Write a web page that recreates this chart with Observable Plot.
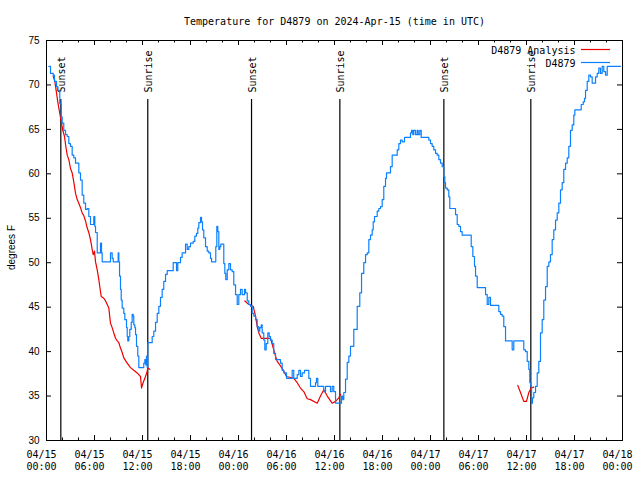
<!DOCTYPE html>
<html>
<head>
<meta charset="utf-8">
<script src="https://cdn.jsdelivr.net/npm/d3@7"></script>
<script src="https://cdn.jsdelivr.net/npm/@observablehq/plot@0.6"></script>
<style>
  html, body { margin: 0; padding: 0; background: #fff; }
  #chart { width: 640px; height: 480px; }
</style>
</head>
<body>
<div id="chart"></div>
<script>
// ---- Data (hours since 2024-04-15 00:00 UTC, temperatures in °F) ----
const titleText = "Temperature for D4879 on 2024-Apr-15 (time in UTC)";
const yLabel = "degrees F";

const obsHours = [0.29,0.5,0.84,1.0,1.25,1.41,1.66,1.84,1.96,2.16,2.38,2.59,2.79,3.0,3.21,3.41,3.63,3.91,4.04,4.25,4.46,4.66,4.88,5.09,5.29,5.5,5.79,5.91,6.04,6.13,6.34,6.75,6.88,6.96,7.79,8.0,8.21,8.34,8.84,8.96,9.04,9.13,9.25,9.34,9.46,9.66,9.79,10.0,10.09,10.16,10.29,10.41,10.59,10.71,10.84,10.91,11.04,11.13,11.25,11.41,11.54,11.96,12.16,12.29,12.41,12.5,12.59,12.66,13.0,13.21,13.41,13.63,13.84,14.04,14.25,14.46,14.66,14.88,15.09,15.59,15.84,16.13,16.25,16.41,16.75,16.96,17.25,17.38,17.59,17.79,18.0,18.34,18.54,18.75,18.91,19.04,19.25,19.38,19.5,19.66,19.88,20.09,20.29,20.5,20.63,21.04,21.16,21.29,21.41,21.54,21.66,21.79,22.04,22.16,22.29,22.41,22.59,22.79,23.0,23.21,23.41,23.63,23.84,24.04,24.25,24.46,24.75,24.88,25.09,25.29,25.5,25.71,25.91,26.13,26.34,26.54,26.66,26.84,26.96,27.16,27.29,27.46,27.66,27.84,28.0,28.21,28.41,28.63,29.04,29.25,29.46,29.66,30.0,30.5,30.71,30.91,31.13,31.34,31.54,31.75,31.96,32.25,32.59,32.79,33.0,33.41,33.63,33.75,33.91,34.46,34.66,34.88,35.29,35.5,35.71,35.91,36.13,36.75,36.88,37.04,37.16,37.38,37.59,37.79,38.0,38.41,38.84,39.16,39.38,39.66,39.88,40.09,40.29,40.5,40.71,40.84,41.0,41.34,41.54,41.75,41.96,42.16,42.38,42.5,42.79,43.0,43.21,43.63,43.84,44.04,44.25,44.46,44.75,45.29,45.5,45.63,45.79,45.91,46.13,46.34,46.46,46.66,46.84,47.59,47.79,48.0,48.21,48.41,48.63,48.84,49.04,49.25,49.46,49.66,49.79,49.88,50.09,50.29,50.41,50.91,51.13,51.34,51.54,51.75,51.96,52.91,53.09,53.29,53.5,53.63,53.84,54.66,54.88,55.09,55.29,55.5,56.34,56.54,56.75,56.96,57.16,57.38,57.91,58.21,58.41,59.46,59.66,59.88,60.09,60.29,60.41,60.54,60.63,60.75,60.91,61.13,61.34,61.54,61.75,61.96,62.16,62.38,62.59,62.79,63.0,63.21,63.41,63.63,63.84,64.04,64.25,64.46,64.66,64.88,65.09,65.29,65.5,65.71,65.91,66.04,66.66,66.84,67.09,67.25,67.38,67.59,67.79,68.0,68.21,68.41,68.63,68.84,69.04,69.25,69.46,69.66,69.88,70.09,71.75];
const obsTemps = [72.1,71.3,71.1,70.4,69.8,69.4,67.9,66.4,65.7,64.9,64.4,64.2,63.4,63.1,62.1,61.8,61.2,61.2,60.1,59.3,57.6,56.7,56,56.1,55.2,54.3,54.3,55.2,54.1,53.4,51.1,52.2,51.1,50.1,50.1,51.1,50.5,50.1,50.1,51.1,50.1,48.5,47,45.8,44.9,44.3,43.6,42.7,41.7,41.2,41.7,42.5,43.3,44.2,44,43,42.7,41.9,40.6,39.5,38.2,38.2,38.7,39.1,38.5,39.5,38.2,41,41,41.7,42.3,43.3,44.3,45.1,46.1,47,47.9,48.7,49.1,49.1,50,50,49.1,50,50.6,51.1,51.1,52.1,51.5,51.8,52.2,52.4,53,53.3,53.9,54.5,55.1,54.6,53.7,52.8,51.8,51.3,51.1,50.5,50.1,50.1,51.8,54.1,53.5,51.5,51.8,52.1,52.1,49.9,48.8,48.1,49.2,49.9,49.2,49,47.5,46.4,45.3,46.4,47,46.4,47,46.6,45.7,45.3,45.1,44.3,44,43.6,42.8,42.3,42.7,43,42.1,41.3,40.2,40.9,42.1,41.7,41.3,40.9,39.8,39.1,39.1,38.7,37.9,37.6,37,37,37.9,37,37,37.4,37.9,37.2,37.6,37.9,37.9,37,36.1,36.1,36.5,37,36.1,36.1,35.5,36.1,36.1,35.5,36.1,35.5,34.2,34.2,35,34.6,35.4,36.9,38.8,39.5,40.6,42.5,45.1,46.6,48.8,50,50.9,51.1,52.6,53.1,53.7,54.6,55.2,55.8,56.1,56.3,57.1,58.6,59.5,60.1,60.1,60.8,62.1,62.1,62.7,63.4,63.8,63.6,64.1,64.1,64.6,64.9,64.4,64.9,64.4,64.9,64.4,64.9,64.1,64.1,63.8,63.4,63.1,62.7,62.3,62.1,61.6,61.2,60.8,59.7,59,58.4,58.2,57.4,56.1,56.1,55.4,54.3,54.1,53.5,53.1,53.1,51.8,50.7,49.6,48.5,47.2,47.2,46.4,45.3,46.1,45.2,45.2,44.5,44.2,44,42.8,41.2,41.2,40.2,41.2,41.2,40.2,40,38.9,38,36.5,36.1,34.2,34.8,35.4,36.1,37.6,38.9,42.1,43.6,45.8,47.3,49.6,50.1,50.9,52.6,53.7,54.8,55.6,56.7,58.2,59,60.5,61.2,61.8,63.1,64.9,65.5,66.6,67.2,67.2,67.8,68.1,68.5,69.4,70.4,71.1,70.9,70.2,70.2,70.9,71.3,71.9,71.3,72.1,71.5,71.1,72.1,72.1];

const analysisSegment = [1,1,1,1,1,1,1,1,1,1,1,1,1,1,1,1,1,1,1,1,1,1,1,1,1,1,1,1,1,1,1,1,1,1,1,1,1,1,1,1,1,1,1,1,1,1,1,1,1,1,1,1,1,1,1,1,1,
  2,2,2,2,2,2,2,2,2,2,2,2,2,2,2,2,2,2,2,2,2,2,2,2,2,2,2,2,
  3,3,3,3,3,3,3];
const analysisHours = [0.84,1.04,1.25,1.41,1.66,1.84,2.04,2.25,2.41,2.59,2.79,3.0,3.21,3.41,3.63,3.84,4.04,4.25,4.46,4.66,4.88,5.09,5.29,5.5,5.71,5.84,6.0,6.13,6.34,6.54,6.66,6.84,7.16,7.38,7.59,7.79,8.0,8.21,8.41,8.63,8.84,9.04,9.25,9.46,9.66,10.09,10.5,10.91,11.34,11.75,11.88,12.0,12.16,12.38,12.59,12.66,12.91,
  24.79,25.29,25.84,26.13,26.34,26.54,26.84,28.0,28.41,28.63,28.84,29.25,29.66,30.0,30.91,31.34,31.75,32.16,32.59,33.0,33.84,34.25,34.66,35.09,35.71,36.13,36.54,36.75,
  58.91,59.25,59.66,60.0,60.29,60.59,60.91];
const analysisTemps = [71,70.4,69.1,68.1,66.8,65.9,64.9,64.2,63.1,62.1,61.6,60.6,60.1,59.1,57.8,57.1,56.7,56.2,55.6,55.3,54.7,53.9,53.4,52.6,51.5,50.9,51.3,50.1,49.2,48.1,47.3,46.2,46,45.7,45.3,44.9,43.2,42.7,42.1,41.5,41.2,41,40.4,39.9,39.3,38.7,38.2,37.9,37.6,37.2,35.9,36.3,36.7,37.2,37.8,38.2,38,
  45.7,45.3,45.1,44,42.8,42.1,41.5,41.5,40.2,39.5,38.9,38.4,37.8,37.2,37,36.5,35.9,35.5,34.7,34.6,34.2,35,35.7,35,34.2,34.4,34.8,35.2,
  36.2,35.4,34.4,34.4,35.4,35.9,36];

const sunHours  = [1.79, 12.66, 25.63, 36.67, 49.67, 60.54];
const sunLabels = ["Sunset", "Sunrise", "Sunset", "Sunrise", "Sunset", "Sunrise"];

const xTickHours  = [0, 6, 12, 18, 24, 30, 36, 42, 48, 54, 60, 66, 72];
const xTickLabels = ["04/15\n00:00","04/15\n06:00","04/15\n12:00","04/15\n18:00",
                     "04/16\n00:00","04/16\n06:00","04/16\n12:00","04/16\n18:00",
                     "04/17\n00:00","04/17\n06:00","04/17\n12:00","04/17\n18:00",
                     "04/18\n00:00"];
const xMinorHours = [2,4,8,10,14,16,20,22,26,28,32,34,38,40,44,46,50,52,56,58,62,64,68,70];
const yTicks = [30, 35, 40, 45, 50, 55, 60, 65, 70, 75];

const legendLabels = ["D4879 Analysis", "D4879"];
const colors = {analysis: "#ee0000", obs: "#0a80ff"};

// ---- Build tables ----
const t0 = Date.UTC(2024, 3, 15);
const toDate = h => new Date(t0 + h * 3600e3);
const obs = obsHours.map((h, i) => ({t: toDate(h), v: obsTemps[i]}));
const analysis = analysisHours.map((h, i) => ({t: toDate(h), v: analysisTemps[i], s: analysisSegment[i]}));
const sun = sunHours.map((h, i) => ({t: toDate(h), label: sunLabels[i]}));
const xTicks = xTickHours.map(toDate);
const xMinor = xMinorHours.map(toDate);
const labelByTime = new Map(xTicks.map((d, i) => [+d, xTickLabels[i]]));

const W = 640, H = 480, mL = 46, mR = 18, mT = 40, mB = 40;
const fw = W - mL - mR, fh = H - mT - mB;
const mono = "DejaVu Sans Mono, monospace";
const sans = "Liberation Sans, Arial, sans-serif";

const chart = Plot.plot({
  width: W, height: H,
  marginLeft: mL, marginRight: mR, marginTop: mT, marginBottom: mB,
  style: {background: "#fff", color: "#000"},
  x: {type: "utc", domain: [toDate(0), toDate(72)]},
  y: {domain: [30, 75]},
  marks: [
    // axes labels
    Plot.axisX({ticks: xTicks, tickSize: 0, tickPadding: 9, dx: -5,
      tickFormat: d => labelByTime.get(+d), fontFamily: mono, fontSize: 10, lineHeight: 1.2, label: null}),
    Plot.axisY({ticks: yTicks, tickSize: 0, tickPadding: 7, fontFamily: sans, fontSize: 10, label: null}),
    // inward tick marks (all four sides)
    Plot.tickX(xTicks, {x: d => d, insetTop: fh - 5, stroke: "#000"}),
    Plot.tickX(xTicks, {x: d => d, insetBottom: fh - 5, stroke: "#000"}),
    Plot.tickX(xMinor, {x: d => d, insetTop: fh - 2.5, stroke: "#000"}),
    Plot.tickX(xMinor, {x: d => d, insetBottom: fh - 2.5, stroke: "#000"}),
    Plot.tickY(yTicks, {y: d => d, insetRight: fw - 5, stroke: "#000"}),
    Plot.tickY(yTicks, {y: d => d, insetLeft: fw - 5, stroke: "#000"}),
    // sunrise / sunset markers
    Plot.ruleX(sun, {x: "t", insetTop: 59, stroke: "#000", strokeWidth: 1.2}),
    Plot.text(sun, {x: "t", text: "label", frameAnchor: "top", dy: 52, dx: 1, rotate: -90,
      textAnchor: "start", lineAnchor: "middle", fontFamily: mono, fontSize: 10, fill: "#000"}),
    // data
    Plot.line(analysis, {x: "t", y: "v", z: "s", stroke: colors.analysis, strokeWidth: 1.2}),
    Plot.line(obs, {x: "t", y: "v", curve: "step-after", stroke: colors.obs, strokeWidth: 1.2}),
    // frame
    Plot.frame({stroke: "#000"}),
    // title & y label
    Plot.text([titleText], {frameAnchor: "top", dy: -23, fontFamily: mono, fontSize: 10, fill: "#000"}),
    Plot.text([yLabel], {frameAnchor: "left", dx: -35, dy: 7, rotate: -90, textAnchor: "middle",
      lineAnchor: "middle", fontFamily: sans, fontSize: 10, fill: "#000"}),
    // legend
    Plot.text([legendLabels[0]], {frameAnchor: "top-right", dx: -47, dy: 6.5, textAnchor: "end", fontFamily: mono, fontSize: 10, fill: "#000"}),
    Plot.text([legendLabels[1]], {frameAnchor: "top-right", dx: -47, dy: 19.5, textAnchor: "end", fontFamily: mono, fontSize: 10, fill: "#000"}),
    Plot.ruleY([75], {dy: 9, insetLeft: 535, insetRight: 12, stroke: colors.analysis, strokeWidth: 1.2}),
    Plot.ruleY([75], {dy: 22, insetLeft: 535, insetRight: 12, stroke: colors.obs, strokeWidth: 1.2})
  ]
});
document.getElementById("chart").appendChild(chart);
</script>
</body>
</html>
